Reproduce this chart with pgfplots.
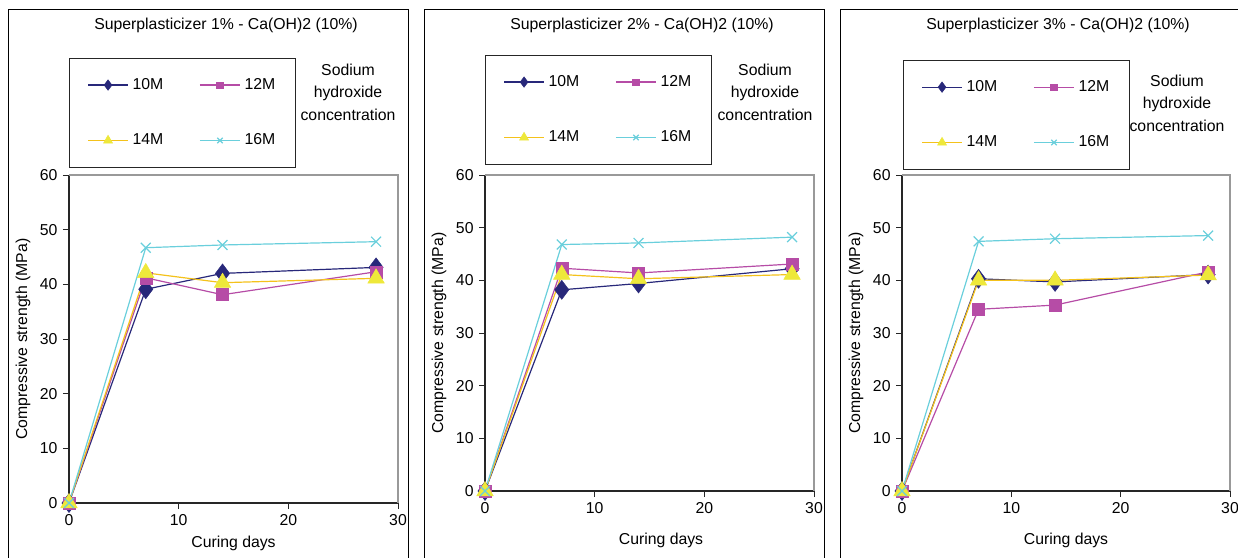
\documentclass[border=0pt]{standalone}
\usepackage{fontspec}
\setmainfont{Liberation Sans}
\usepackage{pgfplots}
\pgfplotsset{compat=1.18}

\definecolor{cTen}{HTML}{28287A}
\definecolor{cTwelve}{HTML}{B64CA6}
\definecolor{cFourteen}{HTML}{F4C21B}
\definecolor{cFourteenMark}{HTML}{EEE83A}
\definecolor{cSixteen}{HTML}{6ACFDC}
\definecolor{frameGray}{HTML}{999999}

\newcommand{\fs}{\fontsize{15.8}{18}\selectfont}

\pgfplotsset{
  panel/.style={
    scale only axis,
    xmin=0, xmax=30, ymin=0, ymax=60,
    xtick={0,10,20,30}, ytick={0,10,...,60},
    axis x line*=bottom, axis y line*=left,
    axis line style={line width=1.1pt, black!85},
    tick align=outside, major tick length=6pt,
    tick style={line width=1pt, black!85},
    /pgf/number format/assume math mode=true,
    tick label style={font=\fs},
    label style={font=\fs},
    ylabel={Compressive strength (MPa)},
    xlabel={Curing days},
    ylabel style={at={(axis description cs:-0.14,0.5)}, anchor=center},
    clip=false,
    every axis plot/.append style={line width=1.2pt},
    legend columns=2,
    legend image code/.code={
      \draw[mark repeat=2,mark phase=2,#1,/tikz/every mark/.append style={scale=0.55}]
        plot coordinates {(0pt,0pt) (20pt,0pt) (40pt,0pt)};
    },
    legend style={
      font=\fs, draw=black!85, line width=0.9pt,
      anchor=north west,
      inner xsep=18pt, inner ysep=18pt,
      row sep=38pt,
      /tikz/every odd column/.append style={column sep=2pt},
      /tikz/every even column/.append style={column sep=34pt},
    },
    after end axis/.code={
      \draw[frameGray, line width=1.2pt] (rel axis cs:0,1) -- (rel axis cs:1,1) -- (rel axis cs:1,0);
    },
  },
  sTen/.style={color=cTen, mark=diamond*, mark size=9.5pt, mark options={fill=cTen, line width=0.5pt}},
  sTwelve/.style={color=cTwelve, mark=square*, mark size=6pt, mark options={fill=cTwelve, line width=0.5pt}},
  sFourteen/.style={color=cFourteen, mark=triangle*, mark size=9.5pt, mark options={draw=cFourteenMark, fill=cFourteenMark, line width=0.5pt}},
  sSixteen/.style={color=cSixteen, mark=x, mark size=7pt, mark options={line width=1.2pt}},
}

\begin{document}
\fs
\begin{tikzpicture}[x=1pt,y=1pt]
\path[use as bounding box] (0,0) rectangle (1238,557);

% outer frames of the three charts
\draw[line width=1pt] (8,-20) -- (8,547) -- (408,547) -- (408,-20);
\draw[line width=1pt] (424,-20) -- (424,547) -- (824,547) -- (824,-20);
\draw[line width=1pt] (840,-20) -- (840,547) -- (1260,547);

% titles
\node[font=\fs] at (226,532) {Superplasticizer 1\% - Ca(OH)2 (10\%)};
\node[font=\fs] at (642,532) {Superplasticizer 2\% - Ca(OH)2 (10\%)};
\node[font=\fs] at (1058,532) {Superplasticizer 3\% - Ca(OH)2 (10\%)};

% side notes
\node[align=center, font=\fontsize{15.8}{22.5}\selectfont] at (348,465) {Sodium\\hydroxide\\concentration};
\node[align=center, font=\fontsize{15.8}{22.5}\selectfont] at (765,465) {Sodium\\hydroxide\\concentration};
\node[align=center, font=\fontsize{15.8}{22.5}\selectfont] at (1177,454) {Sodium\\hydroxide\\concentration};

% ---- panel 1 ----
\begin{axis}[panel, at={(69pt,54pt)}, anchor=south west, width=329pt, height=328pt,
  xlabel style={at={(axis description cs:0.5,-0.122)}, anchor=center},
  legend style={at={(axis description cs:0,1.357)}}]
\addplot[sTen] coordinates {(0,0) (7,39.1) (14,42.0) (28,43.1)};
\addlegendentry{10M}
\addplot[sTwelve] coordinates {(0,0) (7,41.2) (14,38.1) (28,42.3)};
\addlegendentry{12M}
\addplot[sFourteen] coordinates {(0,0) (7,42.1) (14,40.3) (28,41.1)};
\addlegendentry{14M}
\addplot[sSixteen] coordinates {(0,0) (7,46.7) (14,47.2) (28,47.8)};
\addlegendentry{16M}
\end{axis}

% ---- panel 2 ----
\begin{axis}[panel, at={(485pt,66pt)}, anchor=south west, width=329pt, height=316pt,
  xlabel style={at={(axis description cs:0.535,-0.155)}, anchor=center},
  legend style={at={(axis description cs:0,1.380)}}]
\addplot[sTen] coordinates {(0,0) (7,38.2) (14,39.4) (28,42.2)};
\addlegendentry{10M}
\addplot[sTwelve] coordinates {(0,0) (7,42.3) (14,41.4) (28,43.1)};
\addlegendentry{12M}
\addplot[sFourteen] coordinates {(0,0) (7,41.1) (14,40.3) (28,41.1)};
\addlegendentry{14M}
\addplot[sSixteen] coordinates {(0,0) (7,46.8) (14,47.1) (28,48.2)};
\addlegendentry{16M}
\end{axis}

% ---- panel 3 ----
\begin{axis}[panel, at={(902pt,66pt)}, anchor=south west, width=328pt, height=316pt,
  xlabel style={at={(axis description cs:0.5,-0.155)}, anchor=center},
  legend style={at={(axis description cs:0.003,1.364)}}]
\addplot[sTen] coordinates {(0,0) (7,40.3) (14,39.7) (28,41.1)};
\addlegendentry{10M}
\addplot[sTwelve] coordinates {(0,0) (7,34.5) (14,35.3) (28,41.6)};
\addlegendentry{12M}
\addplot[sFourteen] coordinates {(0,0) (7,40.0) (14,40.0) (28,41.0)};
\addlegendentry{14M}
\addplot[sSixteen] coordinates {(0,0) (7,47.4) (14,47.9) (28,48.5)};
\addlegendentry{16M}
\end{axis}
\end{tikzpicture}
\end{document}
